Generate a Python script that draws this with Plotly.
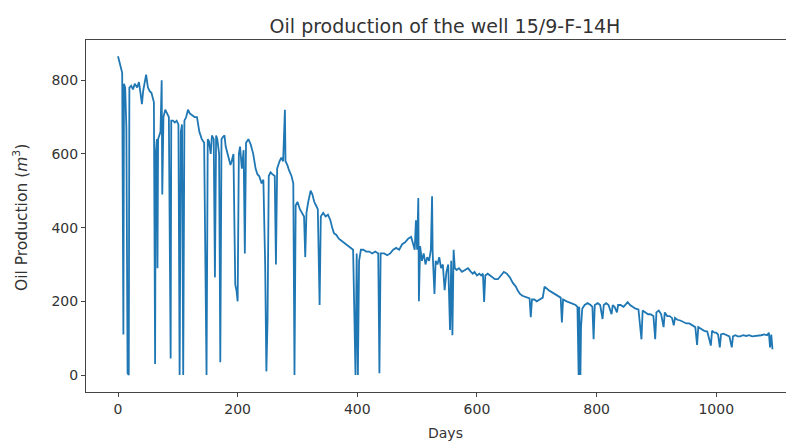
import plotly.graph_objects as go

days = [0, 4, 7, 9, 10, 12, 14, 16, 18, 19, 22, 25, 28, 32, 35, 38, 40, 42, 45, 47, 50, 53, 56, 58, 60,
        62, 63, 65, 66, 67, 69, 71, 73, 74, 76, 79, 82, 85, 88, 89, 92, 95, 98, 101, 103, 105, 107, 109,
        111, 114, 117, 120, 124, 128, 132, 136, 140, 144, 148, 150, 152, 155, 157, 160, 162, 164, 166,
        169, 171, 173, 175, 178, 180, 183, 186, 188, 190, 193, 196, 198, 200, 202, 204, 207, 210, 212,
        214, 218, 222, 226, 230, 233, 236, 240, 243, 246, 248, 250, 252, 255, 258, 262, 264, 266, 270,
        273, 276, 279, 280, 283, 286, 290, 293, 295, 297, 300, 304, 308, 311, 313, 315, 318, 322, 325,
        328, 331, 334, 337, 339, 343, 347, 351, 355, 358, 361, 365, 369, 373, 377, 381, 385, 389, 393,
        397, 399, 401, 403, 406, 410, 415, 420, 425, 430, 435, 437, 439, 445, 450, 455, 460, 465, 470,
        475, 480, 485, 490, 493, 496, 498, 500, 502, 503, 505, 508, 511, 514, 517, 520, 523, 525, 526,
        529, 531, 534, 537, 540, 543, 546, 549, 552, 555, 557, 559, 561, 563, 566, 570, 575, 580, 585,
        590, 593, 596, 600, 604, 607, 610, 612, 614, 618, 622, 626, 630, 635, 640, 645, 650, 655, 660,
        665, 668, 672, 676, 680, 684, 688, 690, 692, 696, 700, 705, 710, 713, 716, 720, 725, 730, 735,
        740, 742, 744, 750, 755, 760, 765, 768, 770, 771, 773, 774, 776, 780, 785, 790, 793, 795, 797,
        802, 806, 810, 812, 816, 820, 825, 827, 830, 834, 836, 840, 845, 850, 852, 856, 860, 865, 870,
        875, 877, 882, 886, 890, 895, 898, 900, 904, 908, 912, 914, 918, 922, 926, 929, 931, 935, 940,
        945, 950, 955, 960, 965, 968, 970, 975, 980, 985, 991, 993, 997, 1000, 1003, 1006, 1008, 1012,
        1016, 1022, 1026, 1028, 1032, 1036, 1040, 1045, 1050, 1055, 1060, 1065, 1070, 1075, 1080, 1085,
        1088, 1090, 1092, 1094]

oil = [865, 835, 820, 110, 790, 780, 670, 5, 0, 780, 785, 775, 790, 780, 795, 760, 735, 770, 800, 815,
       780, 770, 765, 755, 740,
       30, 600, 640, 290, 640, 650, 660, 800, 490, 700, 720, 710, 700, 45, 690, 690, 685, 690, 680, 0,
       660, 680, 0,
       690, 700, 720, 710, 705, 700, 700, 660, 640, 630, 0, 640, 635, 600, 650, 640, 265, 650, 640,
       600, 35, 640, 645, 650, 620, 600, 580, 570, 580, 600, 245, 230, 200, 600, 620, 560, 610, 330,
       630, 640, 625, 600, 560, 545, 540, 520, 530, 300, 10, 150, 540, 550, 545, 540, 300, 560, 580,
       590, 580, 720, 580, 570, 555, 540, 520, 0, 460, 470, 450, 440, 430, 320, 440, 470, 500, 490,
       470, 460, 450, 190, 430, 440, 430, 435, 420, 400, 385, 380, 370, 365, 360, 355, 350, 345, 340,
       0, 330, 0, 310, 340, 340, 335, 335, 330, 335, 330, 5, 330, 330, 325, 330, 340, 345, 340,
       355, 360, 370, 375, 355, 340, 420, 340, 480, 200, 350, 310, 330, 300, 320, 310, 340, 485, 330,
       220, 310, 300, 320, 290, 300, 230, 280, 300, 122, 310, 108, 340, 290, 285, 290, 280, 285, 290,
       280, 275, 280, 270, 275, 270, 275, 198, 270, 275, 270, 265, 260, 260, 270, 280, 275, 265, 250,
       240, 230, 220, 215, 212, 210, 208, 157, 205, 205, 200, 205, 210, 240, 235, 230, 225, 220, 215,
       210, 143, 205, 200, 197, 195, 190, 185, 0, 185, 0, 130, 180, 190, 195, 190, 185, 97, 190,
       195, 190, 152, 190, 195, 190, 165, 190, 185, 170, 190, 190, 185, 195, 198, 190, 185, 180, 178,
       97, 175, 170, 165, 165, 160, 97, 170, 175, 165, 130, 170, 160, 160, 155, 135, 155, 150, 148,
       145, 140, 140, 135, 130, 82, 130, 125, 120, 118, 80, 120, 115, 115, 110, 75, 110, 112,
       110, 105, 75, 105, 108, 105, 105, 108, 106, 108, 105, 106, 105, 108, 110, 108,
       115, 75, 110, 70]

x_ticks = [0, 200, 400, 600, 800, 1000]
y_ticks = [0, 200, 400, 600, 800]

FONT = "DejaVu Sans"
TXT = "#333333"

# page body has an 8px margin; the figure sits at (8, 8) in the window
OFF = 8
W, H = 794 - OFF, 444 - OFF
L, R, T, B = 86 - OFF, 794 - OFF, 40 - OFF, 392 - OFF

fig = go.Figure()
fig.add_trace(go.Scatter(x=days, y=oil, mode="lines",
                         line=dict(color="#1f77b4", width=1.8), showlegend=False))

fig.update_layout(
    width=W, height=H,
    margin=dict(l=L, r=W - R, t=T, b=H - B, autoexpand=False),
    paper_bgcolor="white", plot_bgcolor="white",
    font=dict(family=FONT, size=14, color=TXT),
    title=dict(text="Oil production of the well 15/9-F-14H", xref="container",
               x=(445 - OFF) / W, xanchor="center", yref="container",
               y=1 - (26 - OFF) / H, yanchor="middle",
               font=dict(family=FONT, size=19, color=TXT)),
)
fig.update_xaxes(range=[-53.5, 1130], tickvals=x_ticks, ticks="outside", ticklen=4,
                 tickcolor="#444", showline=True, linecolor="#444", linewidth=1, mirror=True,
                 showgrid=False, zeroline=False, automargin=False,
                 tickfont=dict(family=FONT, size=14, color=TXT))
fig.update_yaxes(range=[-46, 909], tickvals=y_ticks, ticks="outside", ticklen=4,
                 tickcolor="#444", showline=True, linecolor="#444", linewidth=1,
                 showgrid=False, zeroline=False, automargin=False,
                 tickfont=dict(family=FONT, size=14, color=TXT))

fig.add_annotation(text="Days", xref="paper", yref="paper",
                   x=(445 - 86) / (794 - 86), y=-(433 - 392) / (392 - 40),
                   xanchor="center", yanchor="middle",
                   showarrow=False, font=dict(family=FONT, size=14, color=TXT))
fig.add_annotation(text="Oil Production (<i>m</i><sup>3</sup>)", xref="paper", yref="paper",
                   x=-(86 - 21) / (794 - 86), y=(392 - 218) / (392 - 40),
                   xanchor="center", yanchor="middle",
                   textangle=-90, showarrow=False, font=dict(family=FONT, size=15.5, color=TXT))

fig.write_html("out.html")
